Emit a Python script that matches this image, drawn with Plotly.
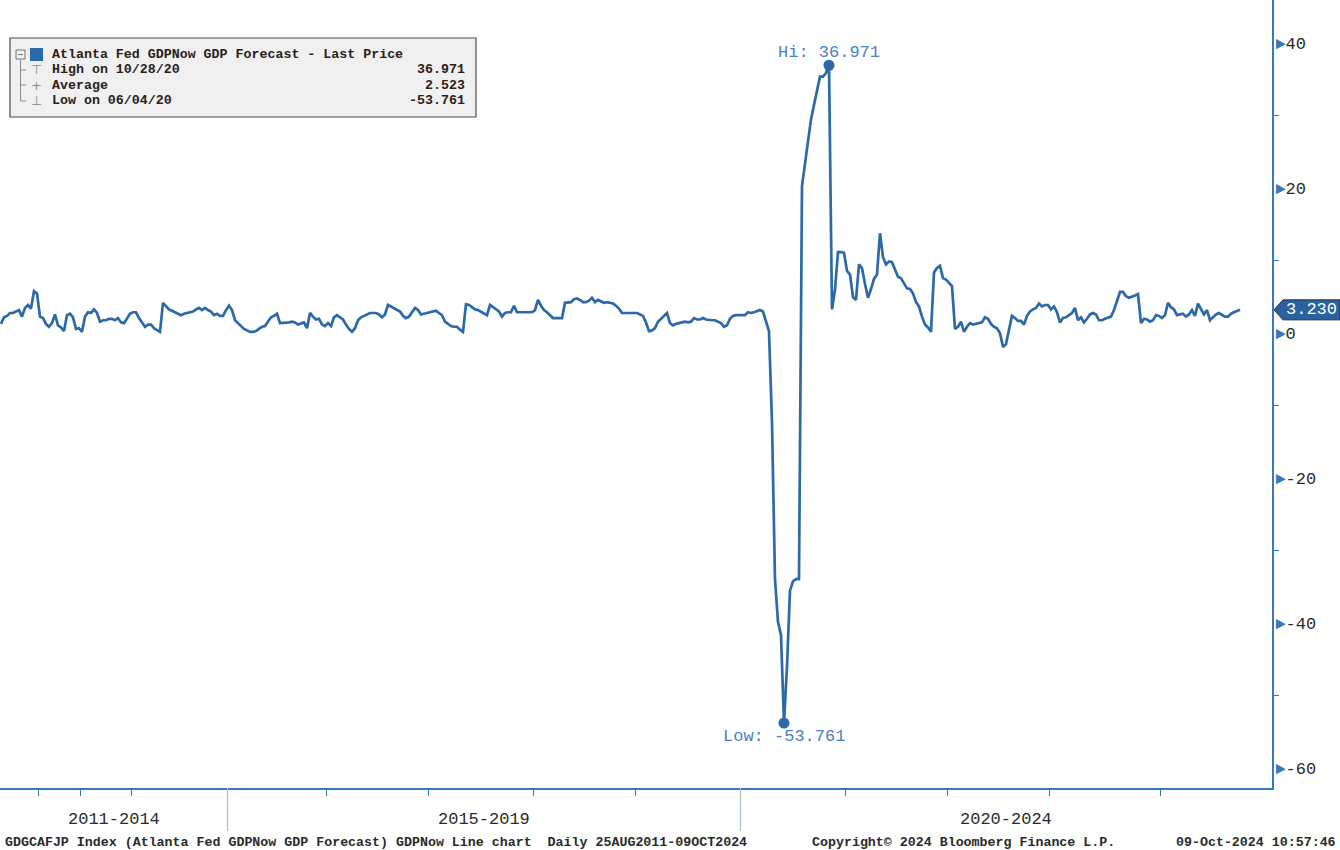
import plotly.graph_objects as go

# ---------------- data (observations, evenly spaced as in the Bloomberg chart) ----------------
years = [2011, 2012, 2013, 2014, 2015, 2016, 2017, 2018, 2019, 2020, 2021, 2022, 2023, 2024]

gdp_2011 = [1.3, 2.2, 2.4, 2.8, 2.8, 3.0, 3.2, 2.3, 3.5, 3.9, 3.4, 5.8, 5.5]
gdp_2012 = [2.3, 2.1, 1.3, 0.9, 1.4, 2.6, 1.1, 0.8, 0.3, 2.5, 2.7, 2.2, 0.6, 0.7]
gdp_2013 = [0.2, 2.3, 2.9, 2.8, 3.3, 2.8, 1.6, 1.8, 1.8, 2.0, 2.0, 1.8, 2.1, 1.5, 1.4, 2.0, 2.7]
gdp_2014 = [2.9, 2.9, 2.1, 1.4, 0.9, 1.2, 1.2, 0.7, 0.5, 0.2, 4.2, 3.7, 3.3, 3.1, 2.9, 2.7,
            2.5, 2.7, 2.8, 2.9, 3.0, 3.3, 3.5, 3.2, 3.5, 3.2, 3.0, 2.5, 2.7, 2.4, 2.4, 3.2]
gdp_2015 = [3.8, 3.2, 1.8, 1.4, 1.0, 0.6, 0.4, 0.2, 0.2, 0.3, 0.6, 0.9, 1.0, 1.6, 2.2, 2.4,
            2.7, 1.4, 1.4, 1.4, 1.5, 1.6, 1.5, 1.2, 1.3, 1.5, 0.7, 2.8, 2.3, 1.9, 2.0, 1.2, 1.0]
gdp_2016 = [1.4, 1.0, 2.2, 2.5, 2.2, 1.9, 1.2, 0.6, 0.2, 0.7, 1.8, 2.2, 2.4, 2.6, 2.8, 2.8,
            2.8, 2.6, 2.2, 2.6, 3.9, 3.7, 3.5, 3.2, 3.0, 2.4, 2.1, 2.3, 2.9, 3.5, 3.2, 2.6, 2.7, 2.8]
gdp_2017 = [2.8, 2.9, 3.1, 2.8, 2.5, 1.6, 1.3, 1.0, 0.9, 0.9, 0.5, 0.2, 4.0, 3.9, 3.6, 3.3,
            3.2, 3.0, 2.8, 2.5, 3.9, 3.6, 3.4, 3.0, 2.3, 2.8, 2.9, 2.9, 3.8, 2.9, 2.9, 2.9, 2.9, 2.9, 2.9]
gdp_2018 = [3.2, 4.6, 3.8, 3.2, 2.9, 2.5, 2.1, 2.1, 2.1, 2.1, 4.2, 4.2, 4.3, 4.7, 4.8, 4.6,
            4.3, 4.3, 4.5, 4.9, 4.3, 4.6, 4.4, 4.2, 4.3, 4.2, 4.1, 3.8, 3.4, 2.8, 2.8, 2.8, 2.8, 2.8]
gdp_2019 = [2.8, 2.6, 2.4, 1.5, 0.3, 0.4, 0.7, 1.6, 2.0, 2.4, 2.8, 1.4, 1.1, 1.3, 1.4, 1.6,
            1.6, 1.5, 1.6, 2.1, 1.9, 1.9, 2.1, 1.9, 1.8, 1.8, 1.8, 1.6, 1.4, 0.9, 1.1, 2.0, 2.4, 2.5, 2.5]
gdp_2020 = [2.5, 2.5, 2.9, 2.8, 2.9, 3.0, 3.2, 3.0, 1.6, 0.3, -12.3, -33.9, -39.8, -41.6, -53.761,
            -46.0, -35.5, -34.2, -33.9, -33.9, 20.3, 23.5, 26.5, 29.5, 31.5, 33.5, 35.4, 35.4, 35.9,
            36.971, 3.3, 6.0, 11.2, 11.2, 11.1]
gdp_2021 = [8.6, 8.1, 5.0, 4.6, 9.5, 9.0, 6.8, 4.9, 6.1, 7.5, 8.1, 13.8, 10.5, 9.5, 9.9, 9.8,
            8.8, 7.8, 7.6, 6.8, 6.2, 6.1, 5.5, 4.3, 3.7, 2.3, 1.2, 0.8, 0.2, 8.4, 9.0, 9.3, 7.6, 7.4]
gdp_2022 = [6.9, 6.5, 0.6, 0.9, 1.6, 0.2, 0.9, 1.4, 1.2, 1.3, 1.4, 1.5, 2.2, 2.0, 1.3, 0.9,
            0.7, 0.0, -1.9, -1.5, 0.5, 2.4, 2.1, 1.7, 1.7, 1.2, 2.4, 3.0, 3.3, 3.5, 4.1, 3.7, 3.9, 3.9]
gdp_2023 = [3.3, 3.7, 2.9, 1.5, 2.1, 2.2, 2.5, 2.8, 3.5, 1.8, 2.2, 1.5, 2.0, 2.6, 2.8, 2.6,
            1.8, 1.8, 2.0, 2.1, 2.3, 3.2, 4.4, 5.7, 5.7, 5.1, 4.9, 5.0, 5.2, 5.4, 1.4, 2.0, 1.9,
            1.6, 1.8, 2.5, 2.4]
gdp_2024 = [2.1, 2.5, 4.2, 3.6, 3.3, 2.5, 2.6, 2.7, 2.3, 2.6, 3.2, 2.4, 4.1, 3.4, 2.6, 3.2,
            1.8, 2.2, 2.6, 2.8, 2.6, 2.3, 2.3, 2.7, 2.9, 3.1, 3.23]

period_labels = ["2011-2014", "2015-2019", "2020-2024"]
period_start_years = [2011, 2015, 2020]

series_name = "Atlanta Fed GDPNow GDP Forecast - Last Price"
high_label, high_value = "High on 10/28/20", "36.971"
avg_label, avg_value = "Average", "2.523"
low_label, low_value = "Low on 06/04/20", "-53.761"

footer_left = "GDGCAFJP Index (Atlanta Fed GDPNow GDP Forecast) GDPNow Line chart  Daily 25AUG2011-09OCT2024"
footer_mid = "Copyright\u00a9 2024 Bloomberg Finance L.P."
footer_right = "09-Oct-2024 10:57:46"

y_ticks = [-60, -40, -20, 0, 20, 40]

# ---------------- build ----------------
by_year = [gdp_2011, gdp_2012, gdp_2013, gdp_2014, gdp_2015, gdp_2016, gdp_2017,
           gdp_2018, gdp_2019, gdp_2020, gdp_2021, gdp_2022, gdp_2023, gdp_2024]
values = [v for ys in by_year for v in ys]
xs = list(range(len(values)))
starts = []
c = 0
for ys in by_year:
    starts.append(c)
    c += len(ys)
year_start = dict(zip(years, starts))

BLUE = "#2c69a9"
AXIS = "#3a78bd"
TXT = "#2a2a2a"
MONO = "Liberation Mono"
SMALL = 13.3

W, H = 1340, 850
ML, MR, MT, MB = 0, 68, 0, 62
PW, PH = W - ML - MR, H - MT - MB
x_range = [-0.33, 423.67]
y_range = [-62.72, 45.97]
units_per_px = (y_range[1] - y_range[0]) / PH

def px_x(p):   # pixel -> paper x
    return (p - ML) / PW

def px_y(p):   # pixel -> paper y
    return 1 - (p - MT) / PH

fig = go.Figure()
fig.add_trace(go.Scatter(x=xs, y=values, mode="lines",
                         line=dict(color=BLUE, width=2.7), hoverinfo="skip"))

i_hi = max(range(len(values)), key=lambda i: values[i])
i_lo = min(range(len(values)), key=lambda i: values[i])
fig.add_trace(go.Scatter(x=[xs[i_hi], xs[i_lo]], y=[values[i_hi], values[i_lo]], mode="markers",
                         marker=dict(color=BLUE, size=11), hoverinfo="skip"))

ann = []
shapes = []

# hi / low labels
ann.append(dict(x=xs[i_hi], y=values[i_hi], xref="x", yref="y", yshift=13,
                text=f"Hi: {values[i_hi]:.3f}", showarrow=False, yanchor="middle",
                font=dict(family=MONO, size=17, color="#4a82c0")))
ann.append(dict(x=xs[i_lo], y=values[i_lo], xref="x", yref="y", yshift=-13,
                text=f"Low: {values[i_lo]:.3f}", showarrow=False, yanchor="middle",
                font=dict(family=MONO, size=17, color="#4a82c0")))

# period separators and labels
bounds = [year_start[y] - 0.5 for y in period_start_years[1:]]
for b in bounds:
    shapes.append(dict(type="line", xref="x", yref="paper", x0=b, x1=b,
                       y0=0, y1=px_y(831), line=dict(color="#a9bfd8", width=1.2)))
edges = [x_range[0]] + bounds + [x_range[1]]
for k, lab in enumerate(period_labels):
    ann.append(dict(x=(edges[k] + edges[k + 1]) / 2, y=px_y(820), xref="x", yref="paper",
                    text=lab, showarrow=False, yanchor="middle", xanchor="center",
                    font=dict(family=MONO, size=17, color=TXT)))

# footer
ann.append(dict(x=px_x(3), y=px_y(842), xref="paper", yref="paper", text=footer_left,
                showarrow=False, xanchor="left", yanchor="middle",
                font=dict(family=MONO, size=SMALL, color=TXT, weight="bold")))
ann.append(dict(x=px_x(810), y=px_y(842), xref="paper", yref="paper", text=footer_mid,
                showarrow=False, xanchor="left", yanchor="middle",
                font=dict(family=MONO, size=SMALL, color=TXT, weight="bold")))
ann.append(dict(x=px_x(1338), y=px_y(842), xref="paper", yref="paper", text=footer_right,
                showarrow=False, xanchor="right", yanchor="middle",
                font=dict(family=MONO, size=SMALL, color=TXT, weight="bold")))

# legend box
shapes.append(dict(type="rect", xref="paper", yref="paper", x0=px_x(10), x1=px_x(476),
                   y0=px_y(117), y1=px_y(38), fillcolor="#f0f0f0",
                   line=dict(color="#4a4a4a", width=1.2), layer="above"))
shapes.append(dict(type="rect", xref="paper", yref="paper", x0=px_x(16), x1=px_x(25),
                   y0=px_y(59), y1=px_y(50), fillcolor="#f0f0f0",
                   line=dict(color="#777777", width=1), layer="above"))
shapes.append(dict(type="line", xref="paper", yref="paper", x0=px_x(18), x1=px_x(23),
                   y0=px_y(54.5), y1=px_y(54.5), line=dict(color="#777777", width=1), layer="above"))
shapes.append(dict(type="rect", xref="paper", yref="paper", x0=px_x(30), x1=px_x(43),
                   y0=px_y(61), y1=px_y(48), fillcolor=BLUE,
                   line=dict(color=BLUE, width=0), layer="above"))
# tree lines
shapes.append(dict(type="line", xref="paper", yref="paper", x0=px_x(20.5), x1=px_x(20.5),
                   y0=px_y(101), y1=px_y(60), line=dict(color="#8a8a8a", width=1), layer="above"))
for yy in (70, 85, 101):
    shapes.append(dict(type="line", xref="paper", yref="paper", x0=px_x(20.5), x1=px_x(26),
                       y0=px_y(yy), y1=px_y(yy), line=dict(color="#8a8a8a", width=1), layer="above"))

rows = [(54, series_name, None, None),
        (70, high_label, high_value, "\u22a4"),
        (85, avg_label, avg_value, "+"),
        (101, low_label, low_value, "\u22a5")]
for yy, lab, val, icon in rows:
    ann.append(dict(x=px_x(50), y=px_y(yy), xref="paper", yref="paper", text=lab,
                    showarrow=False, xanchor="left", yanchor="middle",
                    font=dict(family=MONO, size=SMALL, color="#2b2118", weight="bold")))
    if val is not None:
        ann.append(dict(x=px_x(467), y=px_y(yy), xref="paper", yref="paper", text=val,
                        showarrow=False, xanchor="right", yanchor="middle",
                        font=dict(family=MONO, size=SMALL, color="#2b2118", weight="bold")))
        ann.append(dict(x=px_x(36), y=px_y(yy), xref="paper", yref="paper", text=icon,
                        showarrow=False, xanchor="center", yanchor="middle",
                        font=dict(family="DejaVu Sans", size=13, color="#8a8a8a")))

# last value tag
last = values[-1]
hh = 10 * units_per_px
tag_path = (f"M {px_x(1274)},{last} L {px_x(1283)},{last + hh} L {px_x(1340)},{last + hh} "
            f"L {px_x(1340)},{last - hh} L {px_x(1283)},{last - hh} Z")
shapes.append(dict(type="path", xref="paper", yref="y", path=tag_path,
                   fillcolor="#2a62a0", line=dict(color="#1d2f45", width=1), layer="above"))
ann.append(dict(x=px_x(1311), y=last, xref="paper", yref="y", text=f"{last:.3f}",
                showarrow=False, xanchor="center", yanchor="middle",
                font=dict(family=MONO, size=17, color="white")))

# y tick labels with triangular markers
ticktext = [f'<span style="color:{AXIS}">\u25ba</span>{t}' for t in y_ticks]

fig.update_layout(
    width=W, height=H, margin=dict(l=ML, r=MR, t=MT, b=MB),
    paper_bgcolor="white", plot_bgcolor="white", showlegend=False,
    annotations=ann, shapes=shapes,
    xaxis=dict(range=x_range, showgrid=False, zeroline=False, showline=True,
               linecolor=AXIS, linewidth=2, ticks="outside", ticklen=6, tickwidth=1.3,
               tickcolor=AXIS, tickvals=[year_start[y] - 0.5 for y in years[1:]],
               showticklabels=False, fixedrange=True),
    yaxis=dict(range=y_range, side="right", showgrid=False, zeroline=False, showline=True,
               linecolor=AXIS, linewidth=2, ticks="", tickvals=y_ticks, ticktext=ticktext,
               tickfont=dict(family=MONO, size=17, color=TXT), ticklabelstandoff=-2,
               minor=dict(tickvals=[-50, -30, -10, 10, 30], ticks="outside", ticklen=5,
                          tickcolor=AXIS, tickwidth=1.3),
               fixedrange=True),
)

fig.write_html("out.html", config={"displayModeBar": False},
               post_script="document.body.style.margin='0';document.body.style.overflow='hidden';")
